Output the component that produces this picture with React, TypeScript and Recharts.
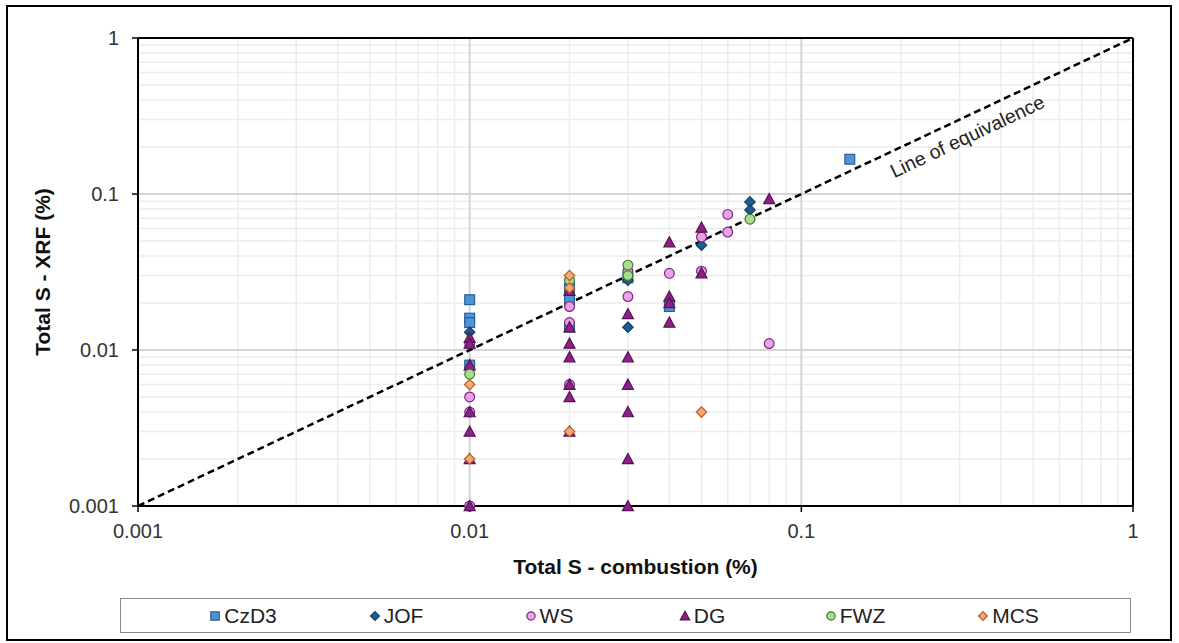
import { ScatterChart, Scatter, XAxis, YAxis, ReferenceLine, ReferenceDot } from "recharts";

// [combustion %, XRF %]
const czd3 = [
  [0.01, 0.021], [0.01, 0.016], [0.01, 0.015], [0.01, 0.008],
  [0.02, 0.025], [0.02, 0.022], [0.02, 0.021], [0.02, 0.014],
  [0.03, 0.029], [0.04, 0.019], [0.14, 0.167],
];
const jof = [
  [0.01, 0.013], [0.03, 0.028], [0.03, 0.014], [0.05, 0.047],
  [0.07, 0.089], [0.07, 0.079],
];
const ws = [
  [0.01, 0.011], [0.01, 0.005], [0.01, 0.004], [0.01, 0.001],
  [0.02, 0.019], [0.02, 0.015], [0.02, 0.006],
  [0.03, 0.032], [0.03, 0.022], [0.04, 0.031],
  [0.05, 0.053], [0.05, 0.032], [0.06, 0.074], [0.06, 0.057], [0.08, 0.011],
];
const dg = [
  [0.01, 0.012], [0.01, 0.011], [0.01, 0.008], [0.01, 0.004], [0.01, 0.003], [0.01, 0.002], [0.01, 0.001],
  [0.02, 0.024], [0.02, 0.014], [0.02, 0.011], [0.02, 0.009], [0.02, 0.006], [0.02, 0.005], [0.02, 0.003],
  [0.03, 0.017], [0.03, 0.009], [0.03, 0.006], [0.03, 0.004], [0.03, 0.002], [0.03, 0.001],
  [0.04, 0.049], [0.04, 0.022], [0.04, 0.02], [0.04, 0.015],
  [0.05, 0.061], [0.05, 0.031], [0.08, 0.093],
];
const fwz = [
  [0.01, 0.007], [0.02, 0.028], [0.03, 0.035], [0.03, 0.03], [0.07, 0.069],
];
const mcs = [
  [0.01, 0.006], [0.01, 0.002], [0.02, 0.03], [0.02, 0.025], [0.02, 0.003], [0.05, 0.004],
];

const axisTicks = [0.001, 0.01, 0.1, 1];
const majorGrid = [0.01, 0.1];
const minorGrid = [
  0.002, 0.003, 0.004, 0.005, 0.006, 0.007, 0.008, 0.009,
  0.02, 0.03, 0.04, 0.05, 0.06, 0.07, 0.08, 0.09,
  0.2, 0.3, 0.4, 0.5, 0.6, 0.7, 0.8, 0.9,
];

type Kind = "square" | "diamond" | "circle" | "triangle";

const series: { name: string; data: number[][]; kind: Kind; fill: string; stroke: string }[] = [
  { name: "CzD3", data: czd3, kind: "square", fill: "#4f93d8", stroke: "#2a5f8f" },
  { name: "JOF", data: jof, kind: "diamond", fill: "#1f5d91", stroke: "#123d63" },
  { name: "WS", data: ws, kind: "circle", fill: "#eaa2e6", stroke: "#7d2a7c" },
  { name: "DG", data: dg, kind: "triangle", fill: "#8a2286", stroke: "#5a1158" },
  { name: "FWZ", data: fwz, kind: "circle", fill: "#a8dc8e", stroke: "#3f7a2c" },
  { name: "MCS", data: mcs, kind: "diamond", fill: "#f4a874", stroke: "#b75d24" },
];

function Marker({ kind, cx, cy, fill, stroke, s = 1 }: { kind: Kind; cx: number; cy: number; fill: string; stroke: string; s?: number }) {
  const sw = 1.2;
  if (kind === "square") {
    const h = 4.9 * s;
    return <rect x={cx - h} y={cy - h} width={2 * h} height={2 * h} fill={fill} stroke={stroke} strokeWidth={sw} />;
  }
  if (kind === "diamond") {
    const h = 5.2 * s;
    return <polygon points={`${cx},${cy - h} ${cx + h},${cy} ${cx},${cy + h} ${cx - h},${cy}`} fill={fill} stroke={stroke} strokeWidth={sw} />;
  }
  if (kind === "circle") {
    return <circle cx={cx} cy={cy} r={4.9 * s} fill={fill} stroke={stroke} strokeWidth={sw} />;
  }
  const h = 5.5 * s;
  return <polygon points={`${cx},${cy - h} ${cx + h},${cy + h * 0.85} ${cx - h},${cy + h * 0.85}`} fill={fill} stroke={stroke} strokeWidth={sw} />;
}

const font = "'Liberation Sans', Arial, sans-serif";
const tick = { fontSize: 20, fill: "#333", fontFamily: font };

export default function App() {
  return (
    <div style={{ position: "absolute", left: 0, top: 0, width: 1179, height: 643, background: "#fff" }}>
      <div style={{ position: "absolute", left: 6, top: 5, width: 1166, height: 636, border: "2px solid #000", boxSizing: "border-box" }} />
      <div style={{ position: "absolute", left: 0, top: 0 }}>
        <ScatterChart width={1179} height={643} margin={{ top: 38, right: 46, left: 8, bottom: 77 }}>
          <XAxis
            type="number"
            dataKey="x"
            scale="log"
            domain={[0.001, 1]}
            ticks={axisTicks}
            height={60}
            tick={tick}
            tickSize={6}
            tickMargin={12}
            tickFormatter={(v) => String(v)}
            axisLine={{ stroke: "#000", strokeWidth: 2 }}
            tickLine={{ stroke: "#000", strokeWidth: 1.5 }}
            label={{
              content: (p: any) => {
                const vb = p.viewBox || {};
                return (
                  <text x={vb.x + vb.width / 2} y={574} textAnchor="middle" fontSize={21} fontWeight="bold" fontFamily={font} fill="#111">
                    Total S - combustion (%)
                  </text>
                );
              },
            }}
          />
          <YAxis
            type="number"
            dataKey="y"
            scale="log"
            domain={[0.001, 1]}
            ticks={axisTicks}
            width={130}
            tick={tick}
            tickSize={6}
            tickMargin={13}
            tickFormatter={(v) => String(v)}
            axisLine={{ stroke: "#000", strokeWidth: 2 }}
            tickLine={{ stroke: "#000", strokeWidth: 1.5 }}
            label={{
              content: (p: any) => {
                const vb = p.viewBox || {};
                const cy = vb.y + vb.height / 2;
                return (
                  <text x={50} y={cy} transform={`rotate(-90, 50, ${cy})`} textAnchor="middle" fontSize={21} fontWeight="bold" fontFamily={font} fill="#111">
                    Total S - XRF (%)
                  </text>
                );
              },
            }}
          />
          {minorGrid.map((v) => (
            <ReferenceLine key={"mx" + v} x={v} stroke="#ececec" strokeWidth={1.5} />
          ))}
          {minorGrid.map((v) => (
            <ReferenceLine key={"my" + v} y={v} stroke="#ececec" strokeWidth={1.5} />
          ))}
          {majorGrid.map((v) => (
            <ReferenceLine key={"Mx" + v} x={v} stroke="#d4d4d4" strokeWidth={2} />
          ))}
          {majorGrid.map((v) => (
            <ReferenceLine key={"My" + v} y={v} stroke="#d4d4d4" strokeWidth={2} />
          ))}
          <ReferenceLine x={1} stroke="#000" strokeWidth={2} />
          <ReferenceLine y={1} stroke="#000" strokeWidth={2} />
          <ReferenceLine
            segment={[{ x: 0.001, y: 0.001 }, { x: 1, y: 1 }]}
            stroke="#000"
            strokeWidth={2.5}
            strokeDasharray="7 4"
          />
          <ReferenceDot
            x={0.318}
            y={0.229}
            r={0}
            shape={(p: any) => (
              <text
                x={p.cx}
                y={p.cy}
                transform={`rotate(-25.2, ${p.cx}, ${p.cy})`}
                textAnchor="middle"
                dominantBaseline="middle"
                fontSize={19.5}
                fontFamily={font}
                fill="#222"
              >
                Line of equivalence
              </text>
            )}
          />
          {series.map((s) => (
            <Scatter
              key={s.name}
              name={s.name}
              data={s.data.map(([x, y]) => ({ x, y }))}
              isAnimationActive={false}
              shape={(p: any) => <Marker kind={s.kind} cx={p.cx} cy={p.cy} fill={s.fill} stroke={s.stroke} />}
            />
          ))}
        </ScatterChart>
      </div>
      <div
        style={{
          position: "absolute",
          left: 120,
          top: 598,
          width: 1011,
          height: 35,
          border: "1.5px solid #8c8c8c",
          boxSizing: "border-box",
          display: "flex",
          justifyContent: "center",
          alignItems: "center",
          fontFamily: font,
          fontSize: 21,
          color: "#222",
        }}
      >
        {series.map((s) => (
          <div key={s.name} style={{ width: 153, display: "flex", justifyContent: "center", alignItems: "center" }}>
            <svg width={12} height={12} style={{ marginRight: 3 }}>
              <Marker kind={s.kind} cx={6} cy={6} fill={s.fill} stroke={s.stroke} s={0.85} />
            </svg>
            <span>{s.name}</span>
          </div>
        ))}
      </div>
    </div>
  );
}
